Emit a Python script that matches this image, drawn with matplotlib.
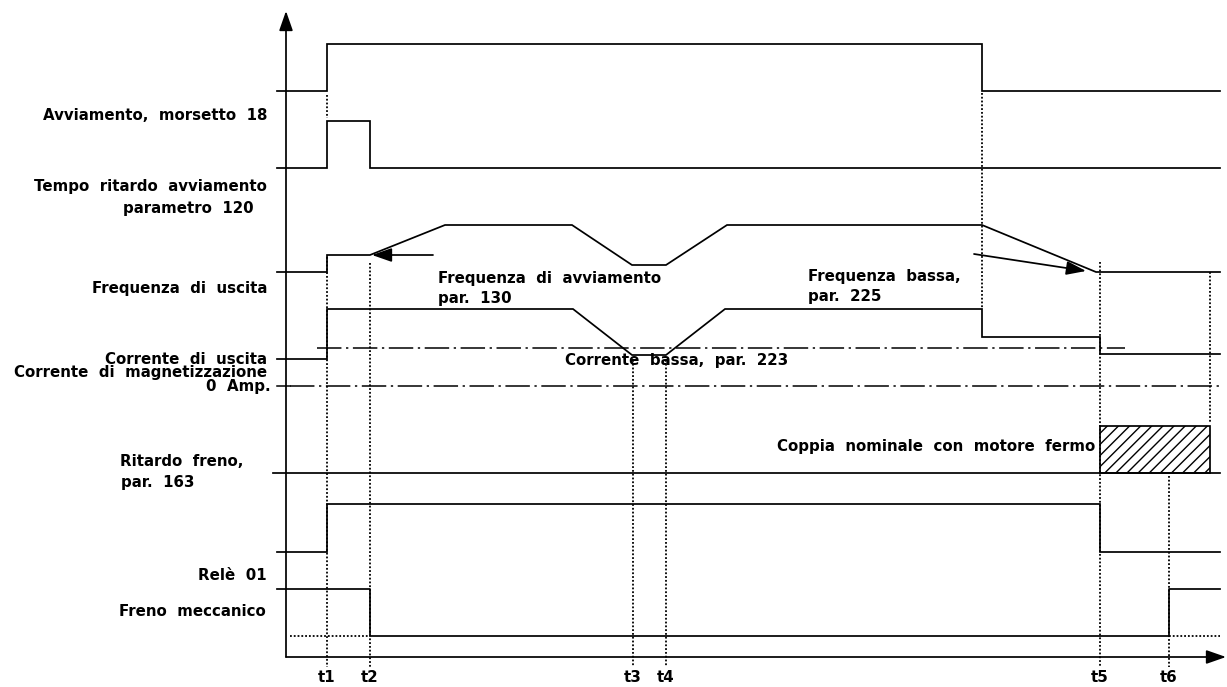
import matplotlib
matplotlib.use("Agg")
import matplotlib.pyplot as plt
from matplotlib.patches import Rectangle

# ---- time marks (horizontal units of the diagram) ----
x_start = 277
x_end = 1220
t1, t2, t3, t4, t5, t6 = 327, 370, 633, 666, 1100, 1169
t_stop = 982
t_hold = 1210
time_labels = ["t1", "t2", "t3", "t4", "t5", "t6"]
time_ticks = [t1, t2, t3, t4, t5, t6]

# ---- signal traces (time, level) ----
start_t = [x_start, t1, t1, t_stop, t_stop, x_end]
start_v = [91, 91, 44, 44, 91, 91]

delay_t = [x_start, t1, t1, t2, t2, x_end]
delay_v = [168, 168, 121, 121, 168, 168]

freq_t = [x_start, t1, t1, t2, 445, 572, 632, 666, 727, t_stop, 1096, x_end]
freq_v = [272, 272, 255, 255, 225, 225, 265, 265, 225, 225, 272, 272]

curr_t = [x_start, t1, t1, 573, 632, 666, 725, t_stop, t_stop, t5, t5, x_end]
curr_v = [359, 359, 309, 309, 355, 355, 309, 309, 337, 337, 354, 354]

relay_t = [x_start, t1, t1, t5, t5, x_end]
relay_v = [552, 552, 504, 504, 552, 552]

brake_t = [x_start, t2, t2, t6, t6, x_end]
brake_v = [589, 589, 636, 636, 589, 589]

brake_delay_level = 473
low_current_level = 348
zero_amp_level = 386
axis_x = 286
axis_y = 657

plt.rcParams["hatch.linewidth"] = 1.0

fig = plt.figure(figsize=(12.27, 6.87), dpi=100)
ax = fig.add_axes([0, 0, 1, 1])
ax.set_xlim(0, 1227)
ax.set_ylim(687, 0)
ax.axis("off")

LW = 1.25
K = "black"
dot = (0, (1.0, 1.1))
dashdot = (0, (16, 3, 1.5, 3))
head = "-|>,head_length=0.8,head_width=0.28"

# axes with arrows
ax.annotate("", xy=(axis_x, 11), xytext=(axis_x, axis_y),
            arrowprops=dict(arrowstyle=head, color=K, lw=LW, mutation_scale=15, shrinkA=0, shrinkB=0))
ax.annotate("", xy=(1226, axis_y), xytext=(axis_x, axis_y),
            arrowprops=dict(arrowstyle=head, color=K, lw=LW, mutation_scale=15, shrinkA=0, shrinkB=0))

# dotted time markers
vdots = [
    (t1, 95, 118), (t1, 257, 667),
    (t2, 263, 667),
    (t3, 360, 667), (t4, 360, 667),
    (t_stop, 93, 308),
    (t5, 262, 667),
    (t6, 476, 667),
    (t_hold, 272, 422),
]
for x, y0, y1 in vdots:
    ax.plot([x, x], [y0, y1], color=K, lw=1.3, ls=dot)

# signals
for tt, vv in [(start_t, start_v), (delay_t, delay_v), (freq_t, freq_v),
               (curr_t, curr_v), (relay_t, relay_v)]:
    ax.plot(tt, vv, color=K, lw=LW, solid_joinstyle="miter")

# brake: dotted parts at low level outside the on interval
ax.plot([290, t2], [636, 636], color=K, lw=1.3, ls=dot)
ax.plot([t6, x_end], [636, 636], color=K, lw=1.3, ls=dot)
ax.plot(brake_t, brake_v, color=K, lw=LW)

# brake delay baseline
ax.plot([273, x_end], [brake_delay_level] * 2, color=K, lw=LW)
# hatched holding-torque box
ax.add_patch(Rectangle((t5, 426), t_hold - t5, brake_delay_level - 426,
                       facecolor="white", edgecolor=K, lw=LW, hatch="///"))

# dash-dot reference levels
ax.plot([317, 1125], [low_current_level] * 2, color=K, lw=1.1, ls=dashdot)
ax.plot([277, 290], [zero_amp_level] * 2, color=K, lw=1.1)
ax.plot([290, x_end], [zero_amp_level] * 2, color=K, lw=1.1, ls=dashdot)

# explanatory arrows
ax.annotate("", xy=(372, 255), xytext=(433, 255),
            arrowprops=dict(arrowstyle=head, color=K, lw=LW, mutation_scale=15, shrinkA=0, shrinkB=0))
ax.annotate("", xy=(1086, 271), xytext=(974, 254),
            arrowprops=dict(arrowstyle=head, color=K, lw=LW, mutation_scale=15, shrinkA=0, shrinkB=0))

FS = 10.8
tk = dict(fontsize=FS, color=K, family="DejaVu Sans", fontweight="bold")
ax.text(267, 115, "Avviamento,  morsetto  18", ha="right", va="center", **tk)
ax.text(267, 187, "Tempo  ritardo  avviamento", ha="right", va="center", **tk)
ax.text(254, 208, "parametro  120", ha="right", va="center", **tk)
ax.text(267, 289, "Frequenza  di  uscita", ha="right", va="center", **tk)
ax.text(267, 359, "Corrente  di  uscita", ha="right", va="center", **tk)
ax.text(267, 373, "Corrente  di  magnetizzazione", ha="right", va="center", **tk)
ax.text(271, 387, "0  Amp.", ha="right", va="center", **tk)
ax.text(120, 462, "Ritardo  freno,", ha="left", va="center", **tk)
ax.text(121, 482, "par.  163", ha="left", va="center", **tk)
ax.text(267, 575, "Relè  01", ha="right", va="center", **tk)
ax.text(266, 611, "Freno  meccanico", ha="right", va="center", **tk)
ax.text(438, 279, "Frequenza  di  avviamento", ha="left", va="center", **tk)
ax.text(438, 298, "par.  130", ha="left", va="center", **tk)
ax.text(565, 360, "Corrente  bassa,  par.  223", ha="left", va="center", **tk)
ax.text(808, 276, "Frequenza  bassa,", ha="left", va="center", **tk)
ax.text(808, 297, "par.  225", ha="left", va="center", **tk)
ax.text(1095, 447, "Coppia  nominale  con  motore  fermo", ha="right", va="center", **tk)

for x, lab in zip(time_ticks, time_labels):
    ax.text(x, 677, lab, ha="center", va="center", **tk)

fig.savefig("out.png", dpi=100, facecolor="white")
